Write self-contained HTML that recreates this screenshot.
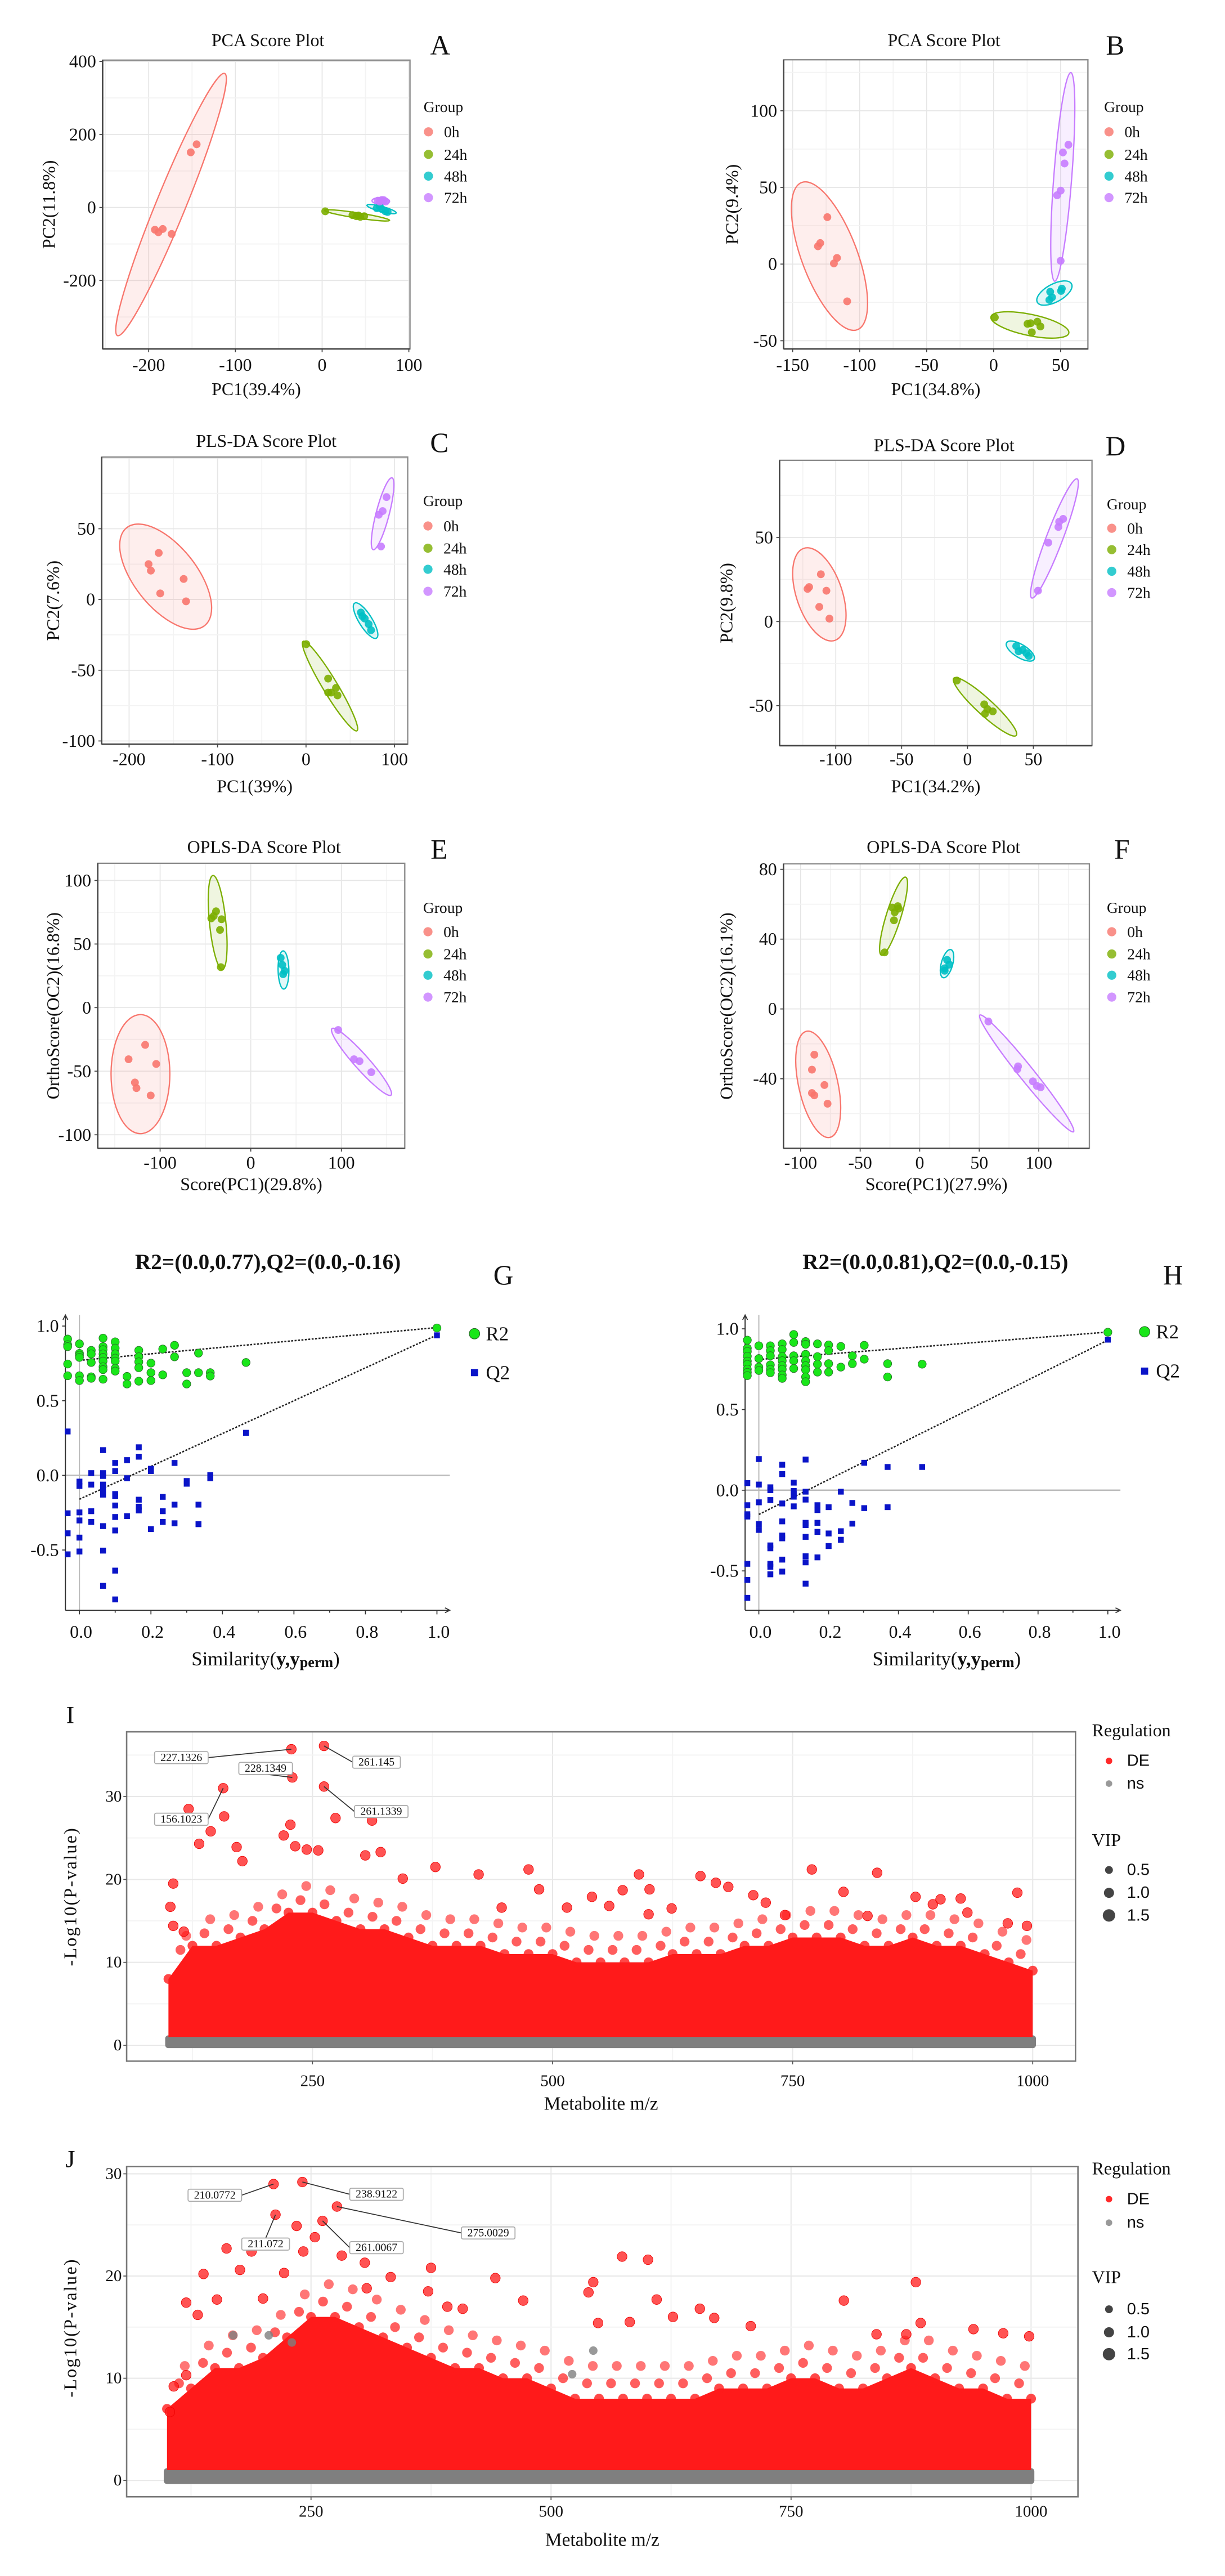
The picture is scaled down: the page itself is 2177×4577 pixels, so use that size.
<!DOCTYPE html>
<html><head><meta charset="utf-8">
<style>
html,body{margin:0;padding:0;background:#fff;}
svg{display:block;}
text{font-family:"Liberation Serif",serif;fill:#111;}
.sans{font-family:"Liberation Sans",sans-serif;}
</style></head>
<body>
<svg id="fig" xmlns="http://www.w3.org/2000/svg" width="2177" height="4577" viewBox="0 0 750 1577">
<rect x="0" y="0" width="750" height="1577" fill="#fff"/>
</svg>
<script>
// ---------------- DATA ----------------
const groupNames = ['0h','24h','48h','72h'];
// Panel A (PCA)
const A_0h = [[-151.5,151],[-144.7,173],[-192.8,-61],[-188.8,-68],[-183.8,-59],[-173.5,-72.6]];
const A_24h = [[3.6,-10.6],[35,-21],[39.5,-24],[44,-25.7],[48.5,-24],[41.8,-22]];
const A_48h = [[63,-2],[68.8,-4.4],[73,-10.6],[75.5,-12.4],[66.5,2.6]];
const A_72h = [[64.3,18.6],[68.8,20.4],[73.3,16],[66.5,16],[71,20]];
const A_ell = [[-112.4,367,-236,-351],[2.7,-8,77.8,-35.4],[51.7,6,85.4,-15],[57.5,18.6,77.8,16.8]];
// Panel B (PCA)
const B_0h = [[-124.1,30.6],[-129.4,13.7],[-131.1,11.6],[-116.9,4],[-119.2,0.4],[-109.3,-24.3]];
const B_24h = [[0.9,-34.8],[25.3,-39],[32.6,-37.6],[34.9,-40.7],[28.5,-44.5],[27.6,-38.6]];
const B_48h = [[42.2,-18.1],[50.9,-16],[43.6,-21.7],[41.6,-23.4],[50.3,-17.5]];
const B_72h = [[55.8,77.8],[51.7,72.8],[52.9,65.6],[50,47.9],[47.4,44.9],[50,2.1]];
const B_ell = [[-143.3,53.2,-101.7,-42.8],[-2,-34.4,56.1,-45],[32.6,-24.9,58.1,-12.9],[57.6,124.9,45.6,-11.2]];
// Panel C (PLS-DA)
const C_0h = [[-166.5,32.9],[-178,25],[-175.4,20.4],[-138.3,14.5],[-164.8,4.3],[-135.6,-1.3]];
const C_24h = [[0.3,-31.6],[25,-55.9],[33.9,-62.5],[28.5,-65.8],[35.6,-67.8],[25,-65.8]];
const C_48h = [[62,-9.2],[66.4,-13.5],[70.8,-17.4],[73.5,-21.7],[63.7,-11.8]];
const C_72h = [[91,72.4],[86.6,62.5],[82.2,59.9],[84.8,37.5]];
const C_ell = [[-202.8,50.7,-114.5,-18.4],[-3.3,-29.6,57.6,-92.8],[55,-2.6,79.7,-27.3],[97.2,86,76,35.2]];
// Panel D (PLS-DA)
const D_0h = [[-111.3,28.1],[-120.2,20.5],[-121.4,19.4],[-107.1,18.3],[-112.5,8.7],[-104.8,1.7]];
const D_24h = [[-8.1,-35.1],[12.7,-49.2],[15.1,-52],[19.2,-53.4],[13.3,-54.8]];
const D_48h = [[37,-14.6],[41.8,-16.9],[44.7,-18.8],[38.8,-17.7],[46.5,-20.5]];
const D_72h = [[72.6,61],[69.6,59.3],[69,56.2],[61.3,46.9],[53.5,18.3]];
const D_ell = [[-124.3,43.5,-100.6,-11.2],[-10.4,-33.7,37,-67.7],[29.7,-12.6,50.5,-22.5],[83.2,84.8,48.8,14]];
// Panel E (OPLS-DA)
const E_0h = [[-116.5,-29.3],[-134.8,-40.6],[-104.3,-44.3],[-127.8,-58.9],[-126.1,-63.3],[-110.4,-69.1]];
const E_24h = [[-38.3,75.7],[-40.9,72],[-43.5,70.2],[-32.2,69.5],[-33.9,61.1],[-33,31.8]];
const E_48h = [[33,39.1],[34.8,33.6],[37.4,28.9],[35.7,26.3]];
const E_72h = [[96.5,-17.6],[113.9,-40.6],[120,-42.1],[133,-50.8]];
const E_ell = [[-121.7,-5.5,-121.7,-99.1],[-41.7,103.9,-31.3,30],[35.7,44.6,36.5,14.6],[89.6,-16.5,154.8,-68.8]];
// Panel F (OPLS-DA)
const F_0h = [[-88.5,-26.2],[-90.5,-34.8],[-80,-43.6],[-90.5,-48.2],[-88.5,-49.5],[-77.4,-54.3]];
const F_24h = [[-23,58.1],[-18.4,58.9],[-21,55.4],[-21.6,50.8],[-29.5,32.4],[-17.7,57.5]];
const F_48h = [[23,28.1],[21,23.3],[24.9,25.4],[21,21.9]];
const F_72h = [[57.7,-7.2],[82.6,-32.9],[82,-34.5],[95.1,-41.5],[101.6,-44.9],[98.4,-44.1]];
const F_ell = [[-95.1,-12.8,-75.4,-73.6],[-11.8,75.5,-32.1,30.8],[26.2,34,19.7,17.9],[50.5,-3.5,129.2,-70.4]];

// Panel G permutation
const G_r2 = [[-0.033,0.913],[-0.033,0.875],[-0.033,0.862],[-0.033,0.746],[-0.033,0.667],
 [0,0.881],[0,0.817],[0,0.804],[0,0.79],[0,0.667],[0,0.635],
 [0.033,0.837],[0.033,0.813],[0.033,0.756],[0.033,0.66],[0.033,0.65],
 [0.066,0.919],[0.066,0.862],[0.066,0.842],[0.066,0.813],[0.066,0.79],[0.066,0.765],[0.066,0.727],[0.066,0.708],[0.066,0.644],
 [0.1,0.894],[0.1,0.852],[0.1,0.813],[0.1,0.785],[0.1,0.765],[0.1,0.717],[0.1,0.698],
 [0.133,0.663],[0.133,0.612],[0.166,0.837],[0.166,0.794],[0.166,0.76],[0.166,0.721],[0.166,0.631],
 [0.2,0.752],[0.2,0.688],[0.2,0.635],[0.233,0.846],[0.233,0.673],[0.266,0.871],[0.266,0.794],
 [0.3,0.688],[0.3,0.612],[0.333,0.819],[0.333,0.688],[0.366,0.688],[0.366,0.665],[0.466,0.756],[1.0,0.987]];
const G_q2 = [[-0.033,0.294],[-0.033,-0.254],[-0.033,-0.388],[-0.033,-0.529],
 [0,-0.042],[0,-0.071],[0,-0.248],[0,-0.302],[0,-0.417],[0,-0.51],
 [0.033,0.015],[0.033,-0.062],[0.033,-0.24],[0.033,-0.312],
 [0.066,0.169],[0.066,0.015],[0.066,-0.004],[0.066,-0.062],[0.066,-0.094],[0.066,-0.129],[0.066,-0.34],[0.066,-0.504],[0.066,-0.74],
 [0.1,0.083],[0.1,0.029],[0.1,-0.125],[0.1,-0.138],[0.1,-0.202],[0.1,-0.279],[0.1,-0.369],[0.1,-0.638],[0.1,-0.831],
 [0.133,0.102],[0.133,-0.019],[0.133,-0.273],[0.166,0.188],[0.166,0.125],[0.166,-0.163],[0.166,-0.21],[0.166,-0.235],
 [0.2,0.044],[0.2,0.029],[0.2,-0.36],[0.233,-0.144],[0.233,-0.24],[0.233,-0.312],[0.266,0.083],[0.266,-0.196],[0.266,-0.321],
 [0.3,-0.038],[0.3,-0.056],[0.333,-0.196],[0.333,-0.327],[0.366,0.002],[0.366,-0.019],[0.466,0.285],[1.0,0.938]];
const G_lines = [[0,0.77,1,0.99],[0,-0.16,1,0.94]];
// Panel H permutation
const H_r2 = [[-0.033,0.93],[-0.033,0.88],[-0.033,0.86],[-0.033,0.83],[-0.033,0.80],[-0.033,0.78],[-0.033,0.75],[-0.033,0.73],[-0.033,0.71],
 [0,0.895],[0,0.816],[0,0.763],[0,0.742],
 [0.033,0.895],[0.033,0.865],[0.033,0.833],[0.033,0.777],[0.033,0.749],[0.033,0.728],
 [0.067,0.907],[0.067,0.872],[0.067,0.828],[0.067,0.802],[0.067,0.772],[0.067,0.749],[0.067,0.714],[0.067,0.693],
 [0.1,0.965],[0.1,0.916],[0.1,0.833],[0.1,0.802],[0.1,0.754],
 [0.134,0.921],[0.134,0.904],[0.134,0.842],[0.134,0.802],[0.134,0.772],[0.134,0.746],[0.134,0.702],[0.134,0.672],
 [0.168,0.907],[0.168,0.828],[0.168,0.781],[0.168,0.732],[0.2,0.9],[0.2,0.865],[0.2,0.784],[0.2,0.732],
 [0.235,0.891],[0.235,0.763],[0.268,0.833],[0.268,0.784],[0.302,0.898],[0.302,0.812],[0.369,0.784],[0.369,0.702],[0.468,0.781],[1.0,0.979]];
const H_q2 = [[-0.033,0.044],[-0.033,-0.093],[-0.033,-0.149],[-0.033,-0.163],[-0.033,-0.456],[-0.033,-0.556],[-0.033,-0.667],
 [0,0.193],[0,0.035],[0,-0.075],[0,-0.21],[0,-0.246],
 [0.033,0.018],[0.033,0],[0.033,-0.061],[0.033,-0.342],[0.033,-0.36],[0.033,-0.456],[0.033,-0.474],[0.033,-0.521],
 [0.067,0.158],[0.067,0.1],[0.067,-0.082],[0.067,-0.193],[0.067,-0.281],[0.067,-0.298],[0.067,-0.43],[0.067,-0.504],
 [0.1,0.047],[0.1,-0.005],[0.1,-0.023],[0.1,-0.04],[0.1,-0.1],
 [0.134,0.19],[0.134,-0.009],[0.134,-0.058],[0.134,-0.202],[0.134,-0.216],[0.134,-0.289],[0.134,-0.409],[0.134,-0.447],[0.134,-0.579],
 [0.168,-0.093],[0.168,-0.123],[0.168,-0.202],[0.168,-0.258],[0.168,-0.416],[0.2,-0.105],[0.2,-0.268],[0.2,-0.346],
 [0.235,-0.009],[0.235,-0.254],[0.235,-0.307],[0.268,-0.079],[0.268,-0.207],[0.302,0.17],[0.302,-0.111],
 [0.369,0.144],[0.369,-0.105],[0.468,0.144],[1.0,0.933]];
const H_lines = [[0,0.81,1,0.98],[0,-0.15,1,0.93]];

// Panel I volcano
const I_envMz = [100,125,150,175,200,225,250,275,300,325,350,375,400,425,450,475,500,525,550,575,600,625,650,675,700,725,750,775,800,825,850,875,900,925,950,975,1000];
const I_envTop = [8,12,12,13,14,16,16,15,14,14,13,12,12,12,11,11,11,10,10,10,10,11,11,11,12,12,13,13,13,12,12,13,12,12,11,10,9];
const I_mz = [228,262,229,157,262,121,274,312,158,227,220,144,132,171,232,244,256,305,321,177,378,475,770,838,590,654,423,344,105,984,803,878,709,683,670,486,541,573,601,102,105,116,994,974,925,896,904,932,828,742,722,624,600,515,447,559];
const I_p = [35.7,36.1,32.3,31,31.2,28.5,27.4,27.1,27.6,26.6,25.3,25.8,24.3,23.9,24,23.6,23.5,22.9,23.3,22.2,21.5,21.2,21.2,20.8,20.6,20.4,20.6,20.1,19.5,18.4,18.5,17.9,18.1,19.1,19.6,18.8,17.9,18.7,18.8,16.7,14.4,13.7,14.4,14.7,17.7,17,17.6,16,15.6,15.7,17.2,16.5,15.8,16.6,16.6,16.8];
const I_labels = ['227.1326','228.1349','261.145','156.1023','261.1339'];
const I_labelIdx = [0,2,1,3,4];
// Panel J volcano
const J_envMz = [100,125,150,175,200,225,250,275,300,325,350,375,400,425,450,475,500,525,550,575,600,625,650,675,700,725,750,775,800,825,850,875,900,925,950,975,1000];
const J_envTop = [7,9,11,11,12,14,16,16,15,14,13,12,11,11,10,10,9,8,8,8,8,8,8,9,9,9,10,10,9,9,10,11,10,9,9,8,8];
const J_mz = [211,241,277,213,262,235,254,162,188,242,282,574,601,306,375,138,176,222,442,544,880,120,152,200,372,471,610,805,539,392,408,655,670,708,940,885,582,549,627,971,998,870,839,132,308,333,103,107,120];
const J_p = [29.0,29.2,26.8,26.0,25.4,24.9,23.8,22.7,22.4,22.4,22.0,21.9,21.6,21.3,20.8,20.2,20.6,20.3,19.8,19.4,19.4,17.4,17.7,17.8,18.5,17.6,17.7,17.6,18.4,17.0,16.8,16.8,15.9,15.1,14.8,15.4,15.5,15.4,16,14.4,14.1,14.3,14.3,16.2,18.8,19.9,6.7,9.2,10.3];
const J_nsMz = [169,206,230,522,544];
const J_nsP = [14.2,14.2,13.5,10.4,12.7];
const J_labels = ['210.0772','238.9122','275.0029','211.072','261.0067'];
const J_labelIdx = [0,1,2,3,4];

// ---------------- RENDER HELPERS ----------------
const NS='http://www.w3.org/2000/svg';
const svg=document.getElementById('fig');
function mk(parent, tag, attrs, text){
  const e=document.createElementNS(NS,tag);
  for(const k in attrs) e.setAttribute(k,attrs[k]);
  if(text!==undefined) e.textContent=text;
  parent.appendChild(e);
  return e;
}
function lin(d0,d1,p0,p1){ return v=>p0+(v-d0)*(p1-p0)/(d1-d0); }
const COLORS=['#F8766D','#7CAE00','#00BFC4','#C77CFF'];

function scorePanel(cfg){
  const g=mk(svg,'g',{});
  
  
  const [L,T,R,B]=cfg.box;
  const xs=lin(cfg.xd[0],cfg.xd[1],cfg.xp[0],cfg.xp[1]);
  const ys=lin(cfg.yd[0],cfg.yd[1],cfg.yp[0],cfg.yp[1]);
  mk(g,'rect',{x:L,y:T,width:R-L,height:B-T,fill:'#fff'});
  const xstep=cfg.xt[1]-cfg.xt[0], ystep=cfg.yt[1]-cfg.yt[0];
  for(let v=cfg.xt[0]-xstep;v<=cfg.xt[cfg.xt.length-1]+xstep;v+=xstep/2){
    const px=xs(v); if(px<=L||px>=R) continue;
    mk(g,'line',{x1:px,x2:px,y1:T,y2:B,stroke:(Math.abs(((v-cfg.xt[0])/xstep)%1)<1e-6)?'#e6e6e6':'#f3f3f3','stroke-width':0.6});
  }
  for(let v=cfg.yt[0]-ystep;v<=cfg.yt[cfg.yt.length-1]+ystep;v+=ystep/2){
    const py=ys(v); if(py<=T||py>=B) continue;
    mk(g,'line',{y1:py,y2:py,x1:L,x2:R,stroke:(Math.abs(((v-cfg.yt[0])/ystep)%1)<1e-6)?'#e6e6e6':'#f3f3f3','stroke-width':0.6});
  }
  cfg.ell.forEach((e,i)=>{
    const x1=xs(e[0]),y1=ys(e[1]),x2=xs(e[2]),y2=ys(e[3]);
    const cx=(x1+x2)/2, cy=(y1+y2)/2, rx=Math.hypot(x2-x1,y2-y1)/2;
    const ang=Math.atan2(y2-y1,x2-x1)*180/Math.PI;
    const el=mk(g,'ellipse',{cx:cx,cy:cy,rx:rx,ry:cfg.ellW[i],transform:`rotate(${ang} ${cx} ${cy})`,fill:COLORS[i],'fill-opacity':0.12,stroke:COLORS[i],'stroke-width':0.8});
    
    
  });
  cfg.pts.forEach((arr,i)=>{
    arr.forEach(p=>{
      const c=mk(g,'circle',{cx:xs(p[0]),cy:ys(p[1]),r:2.4,fill:COLORS[i],'fill-opacity':0.9});
      
      
    });
  });
  mk(g,'rect',{x:L,y:T,width:R-L,height:B-T,fill:'none',stroke:'#8a8a8a','stroke-width':0.8});
  mk(g,'line',{x1:L,x2:L,y1:T,y2:B,stroke:'#444','stroke-width':0.9});
  mk(g,'line',{x1:L,x2:R,y1:B,y2:B,stroke:'#444','stroke-width':0.9});
  cfg.xt.forEach(v=>{
    const px=xs(v);
    mk(g,'line',{x1:px,x2:px,y1:B,y2:B+2,stroke:'#444','stroke-width':0.6});
    const t=mk(g,'text',{x:px,y:cfg.xly,'text-anchor':'middle','dominant-baseline':'central','font-size':11},String(v));
    
    
  });
  cfg.yt.forEach(v=>{
    const py=ys(v);
    mk(g,'line',{x1:L-2,x2:L,y1:py,y2:py,stroke:'#444','stroke-width':0.6});
    const t=mk(g,'text',{x:L-4,y:py,'text-anchor':'end','dominant-baseline':'central','font-size':11},String(v));
    
    
  });
  const xt=mk(g,'text',{x:(L+R)/2,y:cfg.xty,'text-anchor':'middle','dominant-baseline':'central','font-size':11},cfg.xtitle);
  
  
  const ycy=(T+B)/2;
  const yt=mk(g,'text',{x:cfg.ytx,y:ycy,'text-anchor':'middle','dominant-baseline':'central','font-size':11,transform:`rotate(-90 ${cfg.ytx} ${ycy})`},cfg.ytitle);
  
  
  const ti=mk(g,'text',{x:cfg.title[0],y:cfg.title[1],'text-anchor':'middle','dominant-baseline':'central','font-size':11},cfg.titleText);
  
  
  const le=mk(g,'text',{x:cfg.letter[0],y:cfg.letter[1],'text-anchor':'middle','dominant-baseline':'central','font-size':17},cfg.letterText);
  
  
  const lg=mk(g,'g',{});
  
  
  mk(lg,'text',{x:cfg.leg[0],y:cfg.legY[0],'dominant-baseline':'central','font-size':9.5},'Group');
  groupNames.forEach((n,i)=>{
    const c=mk(lg,'circle',{cx:cfg.leg[0]+3,cy:cfg.legY[i+1],r:2.8,fill:COLORS[i],'fill-opacity':0.8});
    
    
    const t=mk(lg,'text',{x:cfg.leg[0]+12.5,y:cfg.legY[i+1],'dominant-baseline':'central','font-size':9.5},n);
    
    
  });
}

scorePanel({name:'panel-a-pca',box:[62.8,36.8,251,213.6],xd:[-200,100],xp:[91,250.3],yd:[-200,400],yp:[171.7,37.6],xt:[-200,-100,0,100],yt:[-200,0,200,400],
  pts:[A_0h,A_24h,A_48h,A_72h],ell:A_ell,ellW:[9,1.6,1.6,2],xly:223.5,xty:238.3,ytx:30,xtitle:'PC1(39.4%)',ytitle:'PC2(11.8%)',title:[164,24.7],titleText:'PCA Score Plot',letter:[269.5,27.7],letterText:'A',leg:[259.3],legY:[65.3,80.7,94.5,107.8,121]});
scorePanel({name:'panel-b-pca',box:[479.8,36.6,666.1,213.6],xd:[-150,50],xp:[485.3,649.4],yd:[-50,100],yp:[208.6,67.8],xt:[-150,-100,-50,0,50],yt:[-50,0,50,100],
  pts:[B_0h,B_24h,B_48h,B_72h],ell:B_ell,ellW:[17,6.5,5.5,5.5],xly:223.5,xty:238.3,ytx:448.3,xtitle:'PC1(34.8%)',ytitle:'PC2(9.4%)',title:[578,24.7],titleText:'PCA Score Plot',letter:[682.8,27.7],letterText:'B',leg:[676],legY:[65.3,80.7,94.5,107.8,121]});
scorePanel({name:'panel-c-plsda',box:[62.2,279.8,249.6,455.6],xd:[-200,100],xp:[79,241.5],yd:[-100,50],yp:[453.6,323.7],xt:[-200,-100,0,100],yt:[-100,-50,0,50],
  pts:[C_0h,C_24h,C_48h,C_72h],ell:C_ell,ellW:[19,4.5,4,4],xly:464.8,xty:481.4,ytx:32.5,xtitle:'PC1(39%)',ytitle:'PC2(7.6%)',title:[163,270],titleText:'PLS-DA Score Plot',letter:[269,271],letterText:'C',leg:[259],legY:[306.5,322,335.6,348.5,362]});
scorePanel({name:'panel-d-plsda',box:[477.3,281.8,668.6,456.5],xd:[-100,50],xp:[511.7,632.7],yd:[-50,50],yp:[432,329],xt:[-100,-50,0,50],yt:[-50,0,50],
  pts:[D_0h,D_24h,D_48h,D_72h],ell:D_ell,ellW:[14,5,4,5],xly:464.8,xty:481.4,ytx:444.8,xtitle:'PC1(34.2%)',ytitle:'PC2(9.8%)',title:[578,272.5],titleText:'PLS-DA Score Plot',letter:[683,273],letterText:'D',leg:[677.7],legY:[308.5,323.4,336.5,349.7,362.8]});
scorePanel({name:'panel-e-oplsda',box:[59.8,528.5,247.8,703],xd:[-100,100],xp:[98,209],yd:[-100,100],yp:[694.7,539],xt:[-100,0,100],yt:[-100,-50,0,50,100],
  pts:[E_0h,E_24h,E_48h,E_72h],ell:E_ell,ellW:[18,5,3.3,4.5],xly:711.8,xty:725,ytx:32.5,xtitle:'Score(PC1)(29.8%)',ytitle:'OrthoScore(OC2)(16.8%)',title:[161.6,518.5],titleText:'OPLS-DA Score Plot',letter:[268.8,520],letterText:'E',leg:[259],legY:[555.6,570.4,584,597,610.4]});
scorePanel({name:'panel-f-oplsda',box:[479.7,528.8,667,703],xd:[-100,100],xp:[490.2,636],yd:[-40,80],yp:[660.4,532.2],xt:[-100,-50,0,50,100],yt:[-40,0,40,80],
  pts:[F_0h,F_24h,F_48h,F_72h],ell:F_ell,ellW:[12,4.5,3.5,4.5],xly:711.8,xty:725,ytx:444.8,xtitle:'Score(PC1)(27.9%)',ytitle:'OrthoScore(OC2)(16.1%)',title:[577.7,518.5],titleText:'OPLS-DA Score Plot',letter:[687,520],letterText:'F',leg:[677.7],legY:[555.6,570.4,584,597,610.4]});

function permPanel(cfg){
  const g=mk(svg,'g',{});
  
  
  const xs=lin(0,1,cfg.xp[0],cfg.xp[1]);
  const ys=lin(0,1,cfg.yp[0],cfg.yp[1]);
  const ax=cfg.ax, ay=cfg.ay;
  mk(g,'line',{x1:xs(0),x2:xs(0),y1:cfg.top,y2:ay,stroke:'#bbb','stroke-width':0.7});
  mk(g,'line',{x1:ax,x2:cfg.right,y1:ys(0),y2:ys(0),stroke:'#bbb','stroke-width':0.9});
  mk(g,'line',{x1:ax,x2:ax,y1:cfg.top,y2:ay,stroke:'#333','stroke-width':0.7});
  mk(g,'line',{x1:ax,x2:cfg.right,y1:ay,y2:ay,stroke:'#333','stroke-width':0.7});
  mk(g,'path',{d:`M${ax-1.5} ${cfg.top+3} L${ax} ${cfg.top} L${ax+1.5} ${cfg.top+3}`,fill:'none',stroke:'#333','stroke-width':0.6});
  mk(g,'path',{d:`M${cfg.right-3} ${ay-1.5} L${cfg.right} ${ay} L${cfg.right-3} ${ay+1.5}`,fill:'none',stroke:'#333','stroke-width':0.6});
  for(let k=0;k<=10;k++){
    const v=k/10, px=xs(v);
    mk(g,'line',{x1:px,x2:px,y1:ay,y2:ay+(k%2===0?2.5:1.5),stroke:'#333','stroke-width':0.6});
    if(k%2===0){
      const t=mk(g,'text',{x:px+1,y:cfg.xly,'text-anchor':'middle','dominant-baseline':'central','font-size':11},v.toFixed(1));
      
      
    }
  }
  [-0.5,0,0.5,1.0].forEach(v=>{
    const py=ys(v);
    mk(g,'line',{x1:ax-2,x2:ax,y1:py,y2:py,stroke:'#333','stroke-width':0.6});
    const t=mk(g,'text',{x:ax-4,y:py,'text-anchor':'end','dominant-baseline':'central','font-size':11},v.toFixed(1));
    
    
  });
  cfg.lines.forEach(l=>{
    const ln=mk(g,'line',{x1:xs(l[0]),y1:ys(l[1]),x2:xs(l[2]),y2:ys(l[3]),stroke:'#222','stroke-width':0.9,'stroke-dasharray':'1.2 0.9'});
    
    
  });
  cfg.r2.forEach(p=>{
    const c=mk(g,'circle',{cx:xs(p[0]),cy:ys(p[1]),r:2.5,fill:'#19e619',stroke:'#2a6a2a','stroke-width':0.3});
    
    
  });
  cfg.q2.forEach(p=>{
    const s=mk(g,'rect',{x:xs(p[0])-1.8,y:ys(p[1])-1.8,width:3.6,height:3.6,fill:'#0a14c8'});
    
    
  });
  const ti=mk(g,'text',{x:cfg.title[0],y:cfg.title[1],'text-anchor':'middle','dominant-baseline':'central','font-size':13.5,'font-weight':'bold'},cfg.titleText);
  
  
  const le=mk(g,'text',{x:cfg.letter[0],y:cfg.letter[1],'text-anchor':'middle','dominant-baseline':'central','font-size':17},cfg.letterText);
  
  
  const xt=mk(g,'text',{x:cfg.xtx,y:1015.4,'text-anchor':'middle','dominant-baseline':'central','font-size':12});
  
  
  mk(xt,'tspan',{},'Similarity(');
  mk(xt,'tspan',{'font-weight':'bold'},'y,y');
  mk(xt,'tspan',{'font-weight':'bold','font-size':9,dy:2},'perm');
  mk(xt,'tspan',{dy:-2},')');
  const lg=mk(g,'g',{});
  
  
  const lc=mk(lg,'circle',{cx:cfg.leg[0],cy:cfg.leg[1],r:3.2,fill:'#19e619',stroke:'#2a6a2a','stroke-width':0.4});
  
  
  mk(lg,'text',{x:cfg.leg[0]+7,y:cfg.leg[1],'dominant-baseline':'central','font-size':12},'R2');
  const ls=mk(lg,'rect',{x:cfg.leg[0]-2.2,y:cfg.leg[2]-2.2,width:4.4,height:4.4,fill:'#0a14c8'});
  
  
  mk(lg,'text',{x:cfg.leg[0]+7,y:cfg.leg[2],'dominant-baseline':'central','font-size':12},'Q2');
}
permPanel({name:'panel-g-permutation',xp:[48.6,267.5],yp:[903.2,811.8],ax:40,ay:985.8,top:805,right:275.4,xly:999,r2:G_r2,q2:G_q2,lines:G_lines,
  title:[164,772.6],titleText:'R2=(0.0,0.77),Q2=(0.0,-0.16)',letter:[308.2,780.5],letterText:'G',xtx:162.6,leg:[290.5,816.5,840.3]});
permPanel({name:'panel-h-permutation',xp:[464.6,678.3],yp:[912.3,813.5],ax:456.2,ay:985.8,top:805,right:686,xly:999,r2:H_r2,q2:H_q2,lines:H_lines,
  title:[572.7,772.6],titleText:'R2=(0.0,0.81),Q2=(0.0,-0.15)',letter:[718.2,780.5],letterText:'H',xtx:579.6,leg:[700.8,815.3,839.4]});

function volcano(cfg){
  const g=mk(svg,'g',{});
  
  
  const [L,T,R,B]=cfg.box;
  const xs=lin(250,1000,cfg.xp[0],cfg.xp[1]);
  const ys=lin(0,30,cfg.yp[0],cfg.yp[1]);
  mk(g,'rect',{x:L,y:T,width:R-L,height:B-T,fill:'#fff'});
  for(let v=125;v<=1125;v+=125){ const px=xs(v); if(px>L&&px<R) mk(g,'line',{x1:px,x2:px,y1:T,y2:B,stroke:(v%250===0)?'#e8e8e8':'#f4f4f4','stroke-width':0.7}); }
  for(let v=-5;v<=40;v+=5){ const py=ys(v); if(py>T&&py<B) mk(g,'line',{x1:L,x2:R,y1:py,y2:py,stroke:(v%10===0)?'#e8e8e8':'#f4f4f4','stroke-width':0.7}); }
  const envMz=cfg.envMz, envTop=cfg.envTop;
  const band=mk(g,'rect',{x:xs(envMz[0])-2,y:ys(1.2),width:xs(envMz[envMz.length-1])-xs(envMz[0])+4,height:ys(-0.35)-ys(1.2),rx:2,fill:'#7f7f7f'});
  
  
  let d=`M${xs(envMz[0])} ${ys(1.0)}`;
  envMz.forEach((m,i)=>{ d+=` L${xs(m)} ${ys(envTop[i])}`; });
  d+=` L${xs(envMz[envMz.length-1])} ${ys(1.0)} Z`;
  const area=mk(g,'path',{d:d,fill:'#ff1a1a'});
  
  
  // fringe texture along the dense top
  envMz.forEach((m,i)=>{
    const c=mk(g,'circle',{cx:xs(m),cy:ys(envTop[i]),r:3,fill:'#ff1a1a','fill-opacity':0.8});
    
    
    if(i<envMz.length-1){
      const mm=(m+envMz[i+1])/2, hh=(envTop[i]+envTop[i+1])/2;
      const c2=mk(g,'circle',{cx:xs(mm),cy:ys(hh+1.5),r:3,fill:'#ff1a1a','fill-opacity':0.7});
      
      
      const c3=mk(g,'circle',{cx:xs(mm+6),cy:ys(hh+3.2),r:3,fill:'#ff1a1a','fill-opacity':0.6});
      
      
    }
  });
  cfg.nsMz.forEach((m,i)=>{
    const c=mk(g,'circle',{cx:xs(m),cy:ys(cfg.nsP[i]),r:2.6,fill:'#808080','fill-opacity':0.8});
    
    
  });
  cfg.mz.forEach((m,i)=>{
    const c=mk(g,'circle',{cx:xs(m),cy:ys(cfg.p[i]),r:3,fill:'#ff1a1a','fill-opacity':0.75,stroke:'#e00','stroke-width':0.3});
    
    
  });
  cfg.labels.forEach((lab,k)=>{
    const idx=cfg.labelIdx[k];
    const px=xs(cfg.mz[idx]), py=ys(cfg.p[idx]);
    const bx=cfg.labelPos[k][0], by=cfg.labelPos[k][1];
    const w=lab.length*3.6+4;
    const ex=bx+(px>bx+w/2?w/2:(px<bx-w/2?-w/2:0)), ey=by+(Math.abs(px-bx)<=w/2?(py<by?-3.5:3.5):0);
    mk(g,'line',{x1:ex,y1:ey,x2:px,y2:py,stroke:'#333','stroke-width':0.6});
    mk(g,'rect',{x:bx-w/2,y:by-3.7,width:w,height:7.4,rx:1,fill:'#fff',stroke:'#aaa','stroke-width':0.6});
    const t=mk(g,'text',{x:bx,y:by,'text-anchor':'middle','dominant-baseline':'central','font-size':6.8},lab);
    
    
  });
  mk(g,'rect',{x:L,y:T,width:R-L,height:B-T,fill:'none',stroke:'#777','stroke-width':0.9});
  [250,500,750,1000].forEach(v=>{
    const px=xs(v);
    mk(g,'line',{x1:px,x2:px,y1:B,y2:B+2,stroke:'#555','stroke-width':0.6});
    const t=mk(g,'text',{x:px,y:cfg.xly,'text-anchor':'middle','dominant-baseline':'central','font-size':10},String(v));
    
    
  });
  [0,10,20,30].forEach(v=>{
    const py=ys(v);
    mk(g,'line',{x1:L-2,x2:L,y1:py,y2:py,stroke:'#555','stroke-width':0.6});
    const t=mk(g,'text',{x:L-3,y:py,'text-anchor':'end','dominant-baseline':'central','font-size':10},String(v));
    
    
  });
  const xt=mk(g,'text',{x:(L+R)/2,y:cfg.xty,'text-anchor':'middle','dominant-baseline':'central','font-size':11.5},'Metabolite m/z');
  
  
  const ycy=cfg.ytY;
  const yt=mk(g,'text',{x:43,y:ycy,'text-anchor':'middle','dominant-baseline':'central','font-size':11,'letter-spacing':0.8,transform:`rotate(-90 43 ${ycy})`},'-Log10(P-value)');
  
  
  const le=mk(g,'text',{x:43,y:cfg.letterY,'text-anchor':'middle','dominant-baseline':'central','font-size':15},cfg.letterText);
  
  
  const lg=mk(g,'g',{});
  
  
  const ly=cfg.legY;
  mk(lg,'text',{x:668.6,y:ly[0],'dominant-baseline':'central','font-size':11},'Regulation');
  const c1=mk(lg,'circle',{cx:679,cy:ly[1],r:2,fill:'#ff2a2a'});
  
  
  mk(lg,'text',{x:690,y:ly[1],'dominant-baseline':'central','font-size':10,'class':'sans'},'DE');
  const c2=mk(lg,'circle',{cx:679,cy:ly[2],r:2,fill:'#999'});
  
  
  mk(lg,'text',{x:690,y:ly[2],'dominant-baseline':'central','font-size':10,'class':'sans'},'ns');
  mk(lg,'text',{x:668.6,y:ly[3],'dominant-baseline':'central','font-size':11},'VIP');
  ['0.5','1.0','1.5'].forEach((s,i)=>{
    const c=mk(lg,'circle',{cx:679,cy:ly[4+i],r:2.4+i*0.7,fill:'#444'});
    
    
    mk(lg,'text',{x:690,y:ly[4+i],'dominant-baseline':'central','font-size':10,'class':'sans'},s);
  });
}
volcano({name:'panel-i-volcano',box:[77.5,1060.2,658.5,1261.8],xp:[191.3,632.3],yp:[1252.1,1099.8],envMz:I_envMz,envTop:I_envTop,mz:I_mz,p:I_p,nsMz:[],nsP:[],
  labels:I_labels,labelIdx:I_labelIdx,labelPos:[[111,1076],[162.6,1082.6],[230.5,1078.8],[111,1113.7],[233.4,1109]],
  xly:1274,xty:1288,ytY:1161,letterY:1050,letterText:'I',legY:[1059.3,1078,1091.9,1126.5,1144.8,1158.8,1172.6]});
volcano({name:'panel-j-volcano',box:[77.5,1326.3,660,1528.5],xp:[190.4,631.3],yp:[1518.5,1330.8],envMz:J_envMz,envTop:J_envTop,mz:J_mz,p:J_p,nsMz:J_nsMz,nsP:J_nsP,
  labels:J_labels,labelIdx:J_labelIdx,labelPos:[[131.5,1343.9],[230.5,1343.3],[298.9,1367],[162.6,1373.8],[230.5,1376]],
  xly:1537.5,xty:1555,ytY:1425,letterY:1321.8,letterText:'J',legY:[1327.6,1346.3,1360.7,1394,1413.7,1427.8,1441.2]});
</script>
</body></html>
